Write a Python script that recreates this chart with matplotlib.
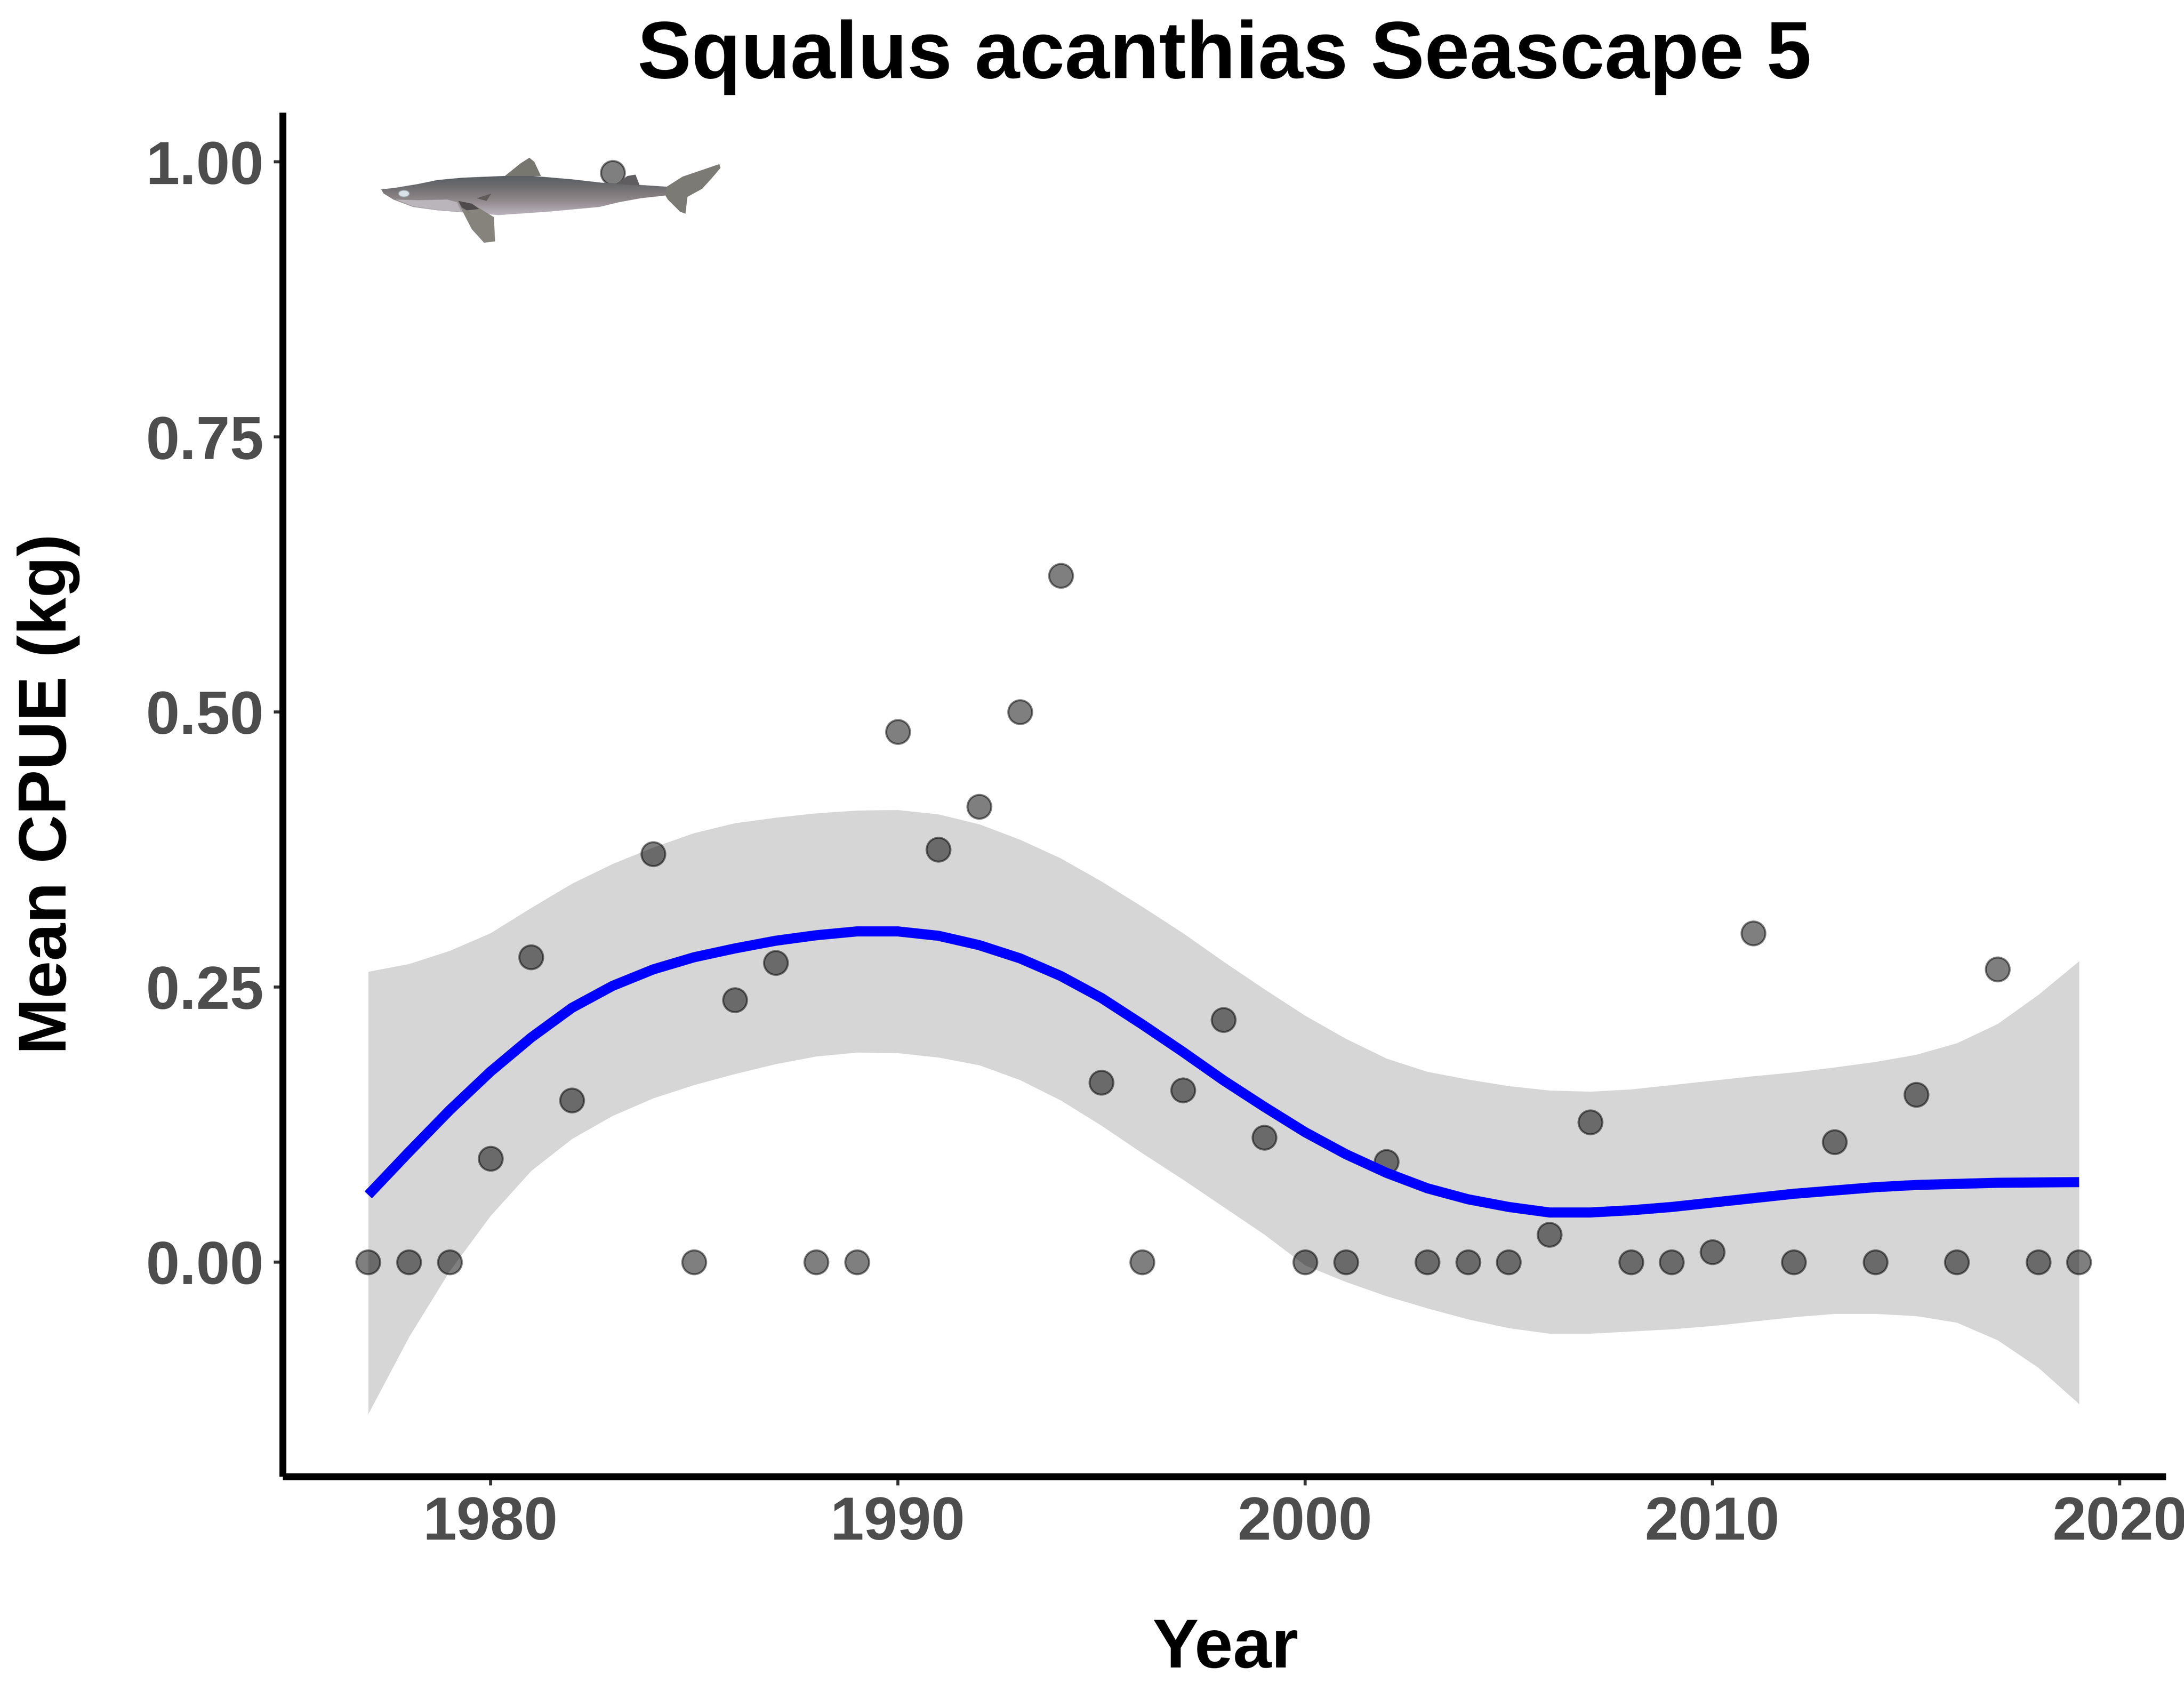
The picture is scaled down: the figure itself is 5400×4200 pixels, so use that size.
import numpy as np
import matplotlib
matplotlib.use("Agg")
import matplotlib.pyplot as plt
from matplotlib.patches import Polygon, Ellipse

plt.rcParams['font.family'] = ['Liberation Sans', 'DejaVu Sans']
plt.rcParams['font.weight'] = 'bold'

years = list(range(1977, 2020))
cpue = [0, 0, 0, .094, .277, .147, .99, .371, 0, .238, .272, 0, 0, .482, .375, .414, .5, .624, .163, 0, .156, .22,
        .113, 0, 0, .091, 0, 0, 0, .025, .127, 0, 0, .009, .299, 0, .109, 0, .152, 0, .266, 0, 0]
smooth = [.061, .100, .138, .173, .204, .231, .251, .266, .277, .285, .292, .297, .3005, .3005, .2965, .288, .276,
          .260, .240, .216, .191, .165, .141, .118, .098, .081, .067, .057, .050, .045, .045, .047, .050, .054, .058,
          .062, .065, .068, .070, .071, .072, .0723, .0726]
upper = [.264, .271, .283, .299, .322, .344, .362, .377, .390, .399, .404, .408, .4105, .411, .407, .398, .384, .367,
         .346, .323, .299, .273, .248, .224, .203, .185, .173, .166, .160, .156, .155, .157, .161, .165, .169, .1725,
         .177, .182, .1885, .199, .2165, .243, .2735]
lower = [-.138, -.068, -.008, .042, .083, .112, .133, .149, .161, .171, .180, .187, .1905, .190, .186, .179, .1655,
         .147, .124, .099, .075, .050, .025, -.003, -.018, -.031, -.042, -.052, -.060, -.065, -.065, -.063, -.061,
         -.058, -.054, -.050, -.047, -.047, -.049, -.055, -.071, -.096, -.129]
x_ticks = [1980, 1990, 2000, 2010, 2020]
y_ticks = [0.00, 0.25, 0.50, 0.75, 1.00]
y_tick_labels = ['0.00', '0.25', '0.50', '0.75', '1.00']

W, H = 5400, 4200
fig = plt.figure(figsize=(18, 14), dpi=300, facecolor='white')
ax = fig.add_axes([699 / W, 1 - 3650 / H, (5355 - 699) / W, (3650 - 278) / H])

ax.fill_between(years, lower, upper, color='#999999', alpha=0.4, linewidth=0, zorder=1)
ax.scatter(years, cpue, s=200, c='black', alpha=0.5, edgecolors='black', linewidths=1.2, zorder=2, clip_on=False)
ax.plot(years, smooth, color='#0000ff', linewidth=6, solid_capstyle='butt', solid_joinstyle='round', zorder=3)

ax.set_xlim(1974.9, 2021.13)
ax.set_ylim(-0.195, 1.0449)
ax.set_xticks(x_ticks)
ax.set_yticks(y_ticks)
ax.set_yticklabels(y_tick_labels)
ax.tick_params(axis='both', labelsize=36, labelcolor='#4d4d4d', color='#333333', width=1.8, length=5.3)
ax.tick_params(axis='x', pad=6)
ax.tick_params(axis='y', pad=6)

for side in ['top', 'right']:
    ax.spines[side].set_visible(False)
for side in ['left', 'bottom']:
    ax.spines[side].set_linewidth(4.1)
    ax.spines[side].set_color('black')
    ax.spines[side].set_capstyle('butt')

fig.text(3027 / W, 1 - 193 / H, 'Squalus acanthias Seascape 5', fontsize=48, color='black', ha='center', va='baseline')
fig.text(3030 / W, 1 - 4122 / H, 'Year', fontsize=41, color='black', ha='center', va='baseline')
fig.text(120 / W, 1 - 1963 / H, 'Mean CPUE (kg)', fontsize=40, color='black', rotation=90, ha='center', va='center')

# shark picture, outlines traced in a 950x300 box at (900, 340)
shark = fig.add_axes([900 / W, 1 - 640 / H, 950 / W, 300 / H], zorder=5)
shark.axis('off')
shark.patch.set_alpha(0)

body = [(70, 385), (130, 372), (220, 345), (300, 315), (400, 298), (570, 285), (690, 285), (850, 310), (970, 335),
        (1040, 340), (1130, 352), (1240, 365), (1230, 430), (1130, 450), (1040, 480), (960, 515), (900, 525),
        (750, 550), (550, 575), (400, 555), (300, 540), (200, 515), (120, 460), (80, 415)]
dorsal = [(575, 285), (640, 190), (675, 150), (695, 180), (722, 285)]
dorsal2 = [(1030, 345), (1075, 285), (1108, 275), (1125, 355)]
tail = [(1235, 365), (1300, 290), (1450, 197), (1455, 225), (1420, 300), (1380, 380), (1320, 440), (1312, 565),
        (1290, 550), (1240, 460), (1230, 430)]
pectoral = [(385, 470), (440, 490), (530, 590), (535, 770), (490, 780), (440, 680), (400, 540)]

ramp = np.array([[.36, .38, .40], [.42, .42, .43], [.49, .47, .48], [.55, .52, .53], [.62, .59, .61], [.72, .69, .73]])
grad = shark.imshow(ramp[:, None, :], extent=[0, 1568, 580, 285], aspect='auto', interpolation='bicubic', zorder=1)
grad.set_clip_path(Polygon(body, closed=True, transform=shark.transData))
shark.set_xlim(0, 1568)
shark.set_ylim(900, 0)

for pts, col in [(dorsal, '#77766f'), (dorsal2, '#5f5d5f'), (tail, '#7c7a74'), (pectoral, '#85837c')]:
    shark.add_patch(Polygon(pts, closed=True, facecolor=col, edgecolor='none', zorder=2))
shark.add_patch(Polygon([(385, 470), (440, 490), (470, 530), (420, 540), (400, 520)], closed=True, facecolor='#4f4b4d',
                        edgecolor='none', zorder=3))
shark.add_patch(Polygon([(460, 450), (520, 415), (500, 470)], closed=True, facecolor='#5f5b58', edgecolor='none', zorder=3))
# pale throat behind the gills
shark.add_patch(Polygon([(130, 460), (220, 465), (340, 460), (380, 480), (395, 550), (300, 535), (200, 510)], closed=True,
                        facecolor='#b9b5bb', edgecolor='none', zorder=2))
shark.add_patch(Ellipse((163, 416), 44, 50, facecolor='#d8e2e8', edgecolor='#9aa4aa', linewidth=0.5, zorder=3))

fig.savefig('out.png', dpi=300)
